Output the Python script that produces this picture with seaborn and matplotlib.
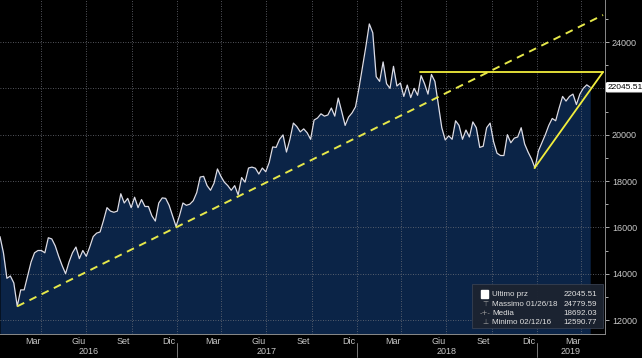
import matplotlib
matplotlib.use("Agg")
import matplotlib.dates as mdates
import matplotlib.pyplot as plt
import matplotlib.ticker as mticker
import matplotlib.transforms as mtransforms
import pandas as pd
import seaborn as sns
from matplotlib.patches import Rectangle

# weekly closes (Fridays, from 2016-01-08)
values = [
    15600, 14900, 13800, 13900, 13600, 12590.77, 13300, 13300, 13900, 14500,
    14900, 15000, 15000, 14900, 15550, 15500, 15200, 14750, 14350, 14000,
    14500, 14900, 15150, 14650, 15000, 14750, 15150, 15600, 15750, 15800,
    16300, 16850, 16700, 16650, 16700, 17450, 17050, 17250, 16850, 17300,
    16850, 17200, 16900, 16900, 16500, 16270, 17050, 17270, 17250, 16950,
    16500, 16040, 16500, 17050, 16950, 17000, 17150, 17500, 18170, 18200,
    17800, 17600, 17900, 18520, 18200, 17950, 17800, 17600, 17800, 17400,
    18150, 17950, 18560, 18600, 18550, 18300, 18560, 18400, 18800, 19470,
    19450, 19800, 19990, 19250, 19800, 20500, 20350, 20120, 20250, 20080,
    19800, 20630, 20720, 20900, 20800, 20850, 21150, 20800, 21580, 21000,
    20400, 20760, 20940, 21200, 22000, 22900, 23800, 24779.59, 24400, 22500,
    22300, 23140, 22200, 22000, 22950, 22100, 22230, 21650, 22140, 21600,
    22000, 21700, 22550, 22200, 21750, 22600, 22300, 21300, 20300, 19770,
    19950, 19800, 20600, 20400, 19800, 20200, 19900, 20550, 20300, 19450,
    19500, 20300, 20500, 19700, 19200, 19100, 19100, 20000, 19650, 19850,
    19900, 20300, 19600, 19250, 18950, 18560, 19300, 19650, 20000, 20400,
    20700, 20600, 21150, 21650, 21450, 21650, 21750, 21300, 21750, 22000,
    22150, 22045.51,
]
start_date = "2016-01-08"

# trend lines drawn on the chart
channel_dates = ["2016-02-12", "2019-05-15"]
channel_values = [12590.77, 25165]
top_dates = ["2018-05-09", "2019-05-15"]
top_values = [22705, 22705]
rise_dates = ["2018-12-27", "2019-05-15"]
rise_values = [18560, 22705]

# legend box
legend_labels = ["Ultimo prz", "Massimo 01/26/18", "Media", "Minimo 02/12/16"]
legend_values = ["22045.51", "24779.59", "18692.03", "12590.77"]
legend_icons = ["", "\u22a4", "-+-", "\u22a5"]

month_names = {3: "Mar", 6: "Giu", 9: "Set", 12: "Dic"}
years = [2016, 2017, 2018, 2019]

dates = pd.date_range(start_date, periods=len(values), freq="7D")
df = pd.DataFrame({"date": dates, "close": values})

sns.set_style("dark")
plt.rcParams["font.family"] = ["Liberation Sans", "DejaVu Sans"]

txt = "#c8c8c8"
fig = plt.figure(figsize=(6.42, 3.58), dpi=100, facecolor="black")
ax = fig.add_axes([0, 24 / 358, 605 / 642, 334 / 358])
ax.set_facecolor("black")

x0, x1 = pd.Timestamp(start_date), pd.Timestamp("2019-05-19")
y0, y1 = 11396, 25813
ax.set_xlim(x0, x1)
ax.set_ylim(y0, y1)

# area + price line
ax.fill_between(df["date"], df["close"], y0, color="#0b2447", lw=0, zorder=0.8)
sns.lineplot(data=df, x="date", y="close", ax=ax, color="#dcdce6",
             linewidth=0.9, zorder=3)

# trend lines
ax.plot(pd.to_datetime(channel_dates), channel_values, color="#e6e84a",
        lw=1.4, dashes=(4, 3), zorder=4)
ax.plot(pd.to_datetime(top_dates), top_values, color="#f2ee3c", lw=1.3, zorder=4)
ax.plot(pd.to_datetime(rise_dates), rise_values, color="#f2ee3c", lw=1.3, zorder=4)

# axes styling
ax.set_xlabel("")
ax.set_ylabel("")
ax.yaxis.tick_right()
ax.yaxis.set_major_locator(mticker.MultipleLocator(2000))
ax.yaxis.set_minor_locator(mticker.MultipleLocator(1000))
# the last-price tag covers the 22000 label
ax.yaxis.set_major_formatter(mticker.FuncFormatter(
    lambda v, p: "" if round(v) == 22000 else f"{v:.0f}"))
ax.xaxis.set_major_locator(mdates.MonthLocator(bymonth=[1, 4, 7, 10]))
ax.xaxis.set_minor_locator(mdates.MonthLocator())
ax.xaxis.set_major_formatter(mticker.NullFormatter())
ax.tick_params(axis="y", which="both", colors=txt, labelsize=6.5,
               direction="out", length=3, width=0.6, pad=2)
ax.tick_params(axis="y", which="minor", length=2)
ax.tick_params(axis="x", which="both", colors="#9a9a9a", direction="out",
               length=2.5, width=0.6)
for side in ["top", "left"]:
    ax.spines[side].set_visible(False)
for side in ["right", "bottom"]:
    ax.spines[side].set_visible(True)
    ax.spines[side].set_color("#8a8a8a")
    ax.spines[side].set_linewidth(0.7)
ax.set_axisbelow("line")
ax.grid(True, which="major", color="#6e727a", linestyle=(0, (1, 2)), linewidth=0.6)

# month labels in Italian, centred mid-month
label_months = pd.date_range("2016-03-01", "2019-03-01", freq="3MS") + pd.Timedelta(days=14)
for d in label_months:
    ax.annotate(month_names[d.month], xy=(d, 0), xycoords=("data", "axes fraction"),
                xytext=(0, -2.5), textcoords="offset points", ha="center", va="top",
                fontsize=6.5, color=txt)

# year labels + separators
trans = mtransforms.blended_transform_factory(ax.transData, ax.transAxes)
for yr in years:
    s = max(pd.Timestamp(f"{yr}-01-01"), x0)
    e = min(pd.Timestamp(f"{yr + 1}-01-01"), x1)
    ax.annotate(str(yr), xy=(s + (e - s) / 2, 0), xycoords=("data", "axes fraction"),
                xytext=(0, -9.5), textcoords="offset points", ha="center", va="top",
                fontsize=6.5, color=txt)
    if yr > years[0]:
        js = pd.Timestamp(f"{yr}-01-01")
        ax.plot([js, js], [-0.027, -0.068], transform=trans, clip_on=False,
                color="#8a8a8a", lw=0.6)

# last price tag
ax.annotate(legend_values[0], xy=(1, values[-1]), xycoords=("axes fraction", "data"),
            xytext=(1.8, 0), textcoords="offset points", ha="left", va="center",
            fontsize=6.0, color="black",
            bbox=dict(boxstyle="round,pad=0.12", fc="white", ec="white"))

# stats box
bx0, bx1 = 472 / 605, 603 / 605
by0, by1 = (334 - 328) / 334, (334 - 284) / 334
ax.add_patch(Rectangle((bx0, by0), bx1 - bx0, by1 - by0, transform=ax.transAxes,
                       fc="#1c2330", ec="#3a4252", lw=0.6, alpha=0.95, zorder=5))
row_y = [(334 - y) / 334 for y in (294, 304, 313.3, 322.3)]
for i, (lab, val, ic) in enumerate(zip(legend_labels, legend_values, legend_icons)):
    if i == 0:
        ax.add_patch(Rectangle((481 / 605, row_y[i] - 0.012), 7 / 605, 0.024,
                               transform=ax.transAxes, fc="white", ec="white", zorder=6))
    else:
        ax.text(485 / 605, row_y[i], ic, transform=ax.transAxes, ha="center",
                va="center", fontsize=5, color="#9a9a9a", zorder=6,
                family=["DejaVu Sans"])
    ax.text(492 / 605, row_y[i], lab, transform=ax.transAxes, ha="left",
            va="center", fontsize=5.8, color="#e0e0e0", zorder=6)
    ax.text(597 / 605, row_y[i], val, transform=ax.transAxes, ha="right",
            va="center", fontsize=5.8, color="#e0e0e0", zorder=6)

fig.savefig("out.png", dpi=100, facecolor="black")
